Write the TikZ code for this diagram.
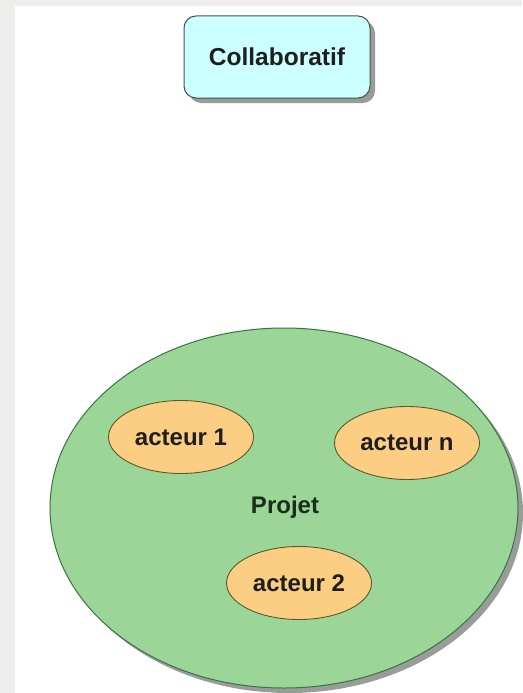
\documentclass[tikz,border=0pt]{standalone}
\usepackage{fontspec}
\setmainfont{Liberation Sans}
\usetikzlibrary{shapes.geometric}
\definecolor{bgray}{RGB}{238,238,236}
\definecolor{boxcyan}{RGB}{204,255,255}
\definecolor{projgreen}{RGB}{155,214,152}
\definecolor{actorange}{RGB}{252,206,132}
\definecolor{edgegray}{RGB}{70,80,80}
\definecolor{edgeolive}{RGB}{90,90,40}
\definecolor{shadowgray}{RGB}{120,125,120}
\definecolor{txtdark}{RGB}{30,30,30}
\definecolor{txtgreen}{RGB}{25,45,25}
\tikzset{
  titlebox/.style={draw=edgegray, line width=1pt, fill=boxcyan, rounded corners=12pt,
    minimum width=186pt, minimum height=82pt, inner sep=0pt,
    font=\fontsize{24.5}{27}\selectfont\bfseries, text=txtdark},
  projell/.style={draw=edgegray!80!green, line width=1pt, fill=projgreen, ellipse,
    minimum width=468pt, minimum height=360pt, inner sep=0pt},
  actell/.style={draw=edgeolive, line width=0.9pt, fill=actorange, ellipse,
    minimum width=145pt, minimum height=73pt, inner sep=0pt,
    font=\fontsize{24}{27}\selectfont\bfseries, text=txtdark},
  lbl/.style={font=\fontsize{24}{27}\selectfont\bfseries, text=txtgreen},
  shadowfill/.style={fill=shadowgray, fill opacity=0.75, draw=none}
}
\begin{document}
\begin{tikzpicture}[x=1pt,y=-1pt]
\useasboundingbox (0,0) rectangle (522,693);
\fill[bgray] (0,0) rectangle (522,693);
\fill[white] (15,6) rectangle (522,693);
% title box shadow and box
\fill[shadowfill, rounded corners=12pt] (189,21) rectangle (375,103);
\node[titlebox] (collab) at (277,57) {Collaboratif};
% project ellipse shadow and ellipse
\fill[shadowfill] (289,513) ellipse [x radius=234, y radius=180];
\node[projell] (projet) at (284,508) {};
\node[lbl] (projetlbl) at (285,507) {Projet};
% actors
\node[actell] (a1) at (181,437) {acteur 1};
\node[actell] (an) at (407,443) {acteur n};
\node[actell] (a2) at (299,583) {acteur 2};
\end{tikzpicture}
\end{document}
